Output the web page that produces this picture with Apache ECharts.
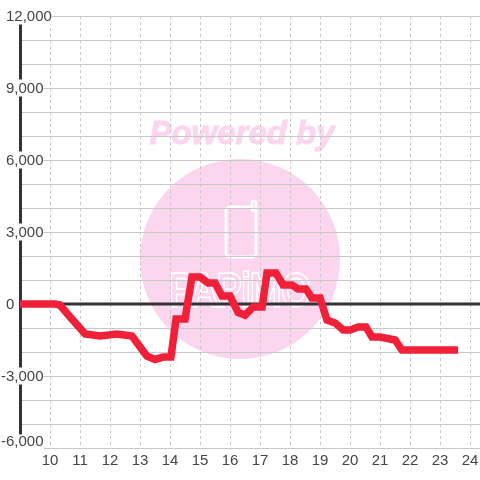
<!DOCTYPE html>
<html>
<head>
<meta charset="utf-8">
<style>
  html, body { margin: 0; padding: 0; background: #fff; }
  #chart { width: 480px; height: 480px; }
</style>
<script src="https://cdn.jsdelivr.net/npm/echarts@6/dist/echarts.min.js"></script>
</head>
<body>
<div id="chart"></div>
<script>
const hours = [9, 10.17, 10.33, 10.67, 11.17, 11.67, 12.23, 12.73, 13.23, 13.5, 13.77, 14.03,
  14.2, 14.5, 14.73, 15, 15.27, 15.5, 15.73, 16, 16.27, 16.5, 16.77, 17.07, 17.23, 17.53,
  17.77, 18.07, 18.27, 18.53, 18.73, 19, 19.23, 19.5, 19.77, 20, 20.27, 20.53, 20.73, 21,
  21.5, 21.73, 23.6];
const values = [0, 0, -40, -540, -1250, -1330, -1250, -1330, -2170, -2310, -2210, -2210,
  -625, -625, 1125, 1125, 875, 875, 330, 330, -350, -460, -125, -125, 1290, 1290,
  790, 790, 625, 625, 250, 250, -670, -790, -1080, -1080, -960, -960, -1375, -1375,
  -1500, -1920, -1920];
const zeroHours = [9, 24.34];
const zeroValues = [0, 0];

const GRID_COLOR = '#c8c8c8';
const TEXT_COLOR = '#444';
const AXIS_COLOR = '#333';
const MARK_PINK = '#fcd6ee';
const Y_MIN = -6000;

function formatY(v) {
  const text = v.toLocaleString('en-US');
  if (v === Y_MIN) {
    return '{low|' + text + '}';
  }
  return v < 0 ? '{neg|' + text + '}' : '{pos|' + text + '}';
}

const chart = echarts.init(document.getElementById('chart'), null, { renderer: 'canvas' });

chart.setOption({
  animation: false,
  backgroundColor: '#fff',
  textStyle: { fontFamily: 'Liberation Sans' },
  grid: { left: 20, right: 0, top: 16, bottom: 32, outerBoundsMode: 'none' },
  graphic: [
    { type: 'circle', z: -10, shape: { cx: 240, cy: 259, r: 100 }, style: { fill: MARK_PINK } },
    { type: 'text', z: -10, x: 242, y: 135, style: {
      text: 'Powered by', fill: MARK_PINK, stroke: MARK_PINK, lineWidth: 1,
      font: 'italic bold 33px "Liberation Sans"', align: 'center', verticalAlign: 'middle'
    } },
    { type: 'rect', z: -9, shape: { x: 226, y: 207, width: 30, height: 50, r: 4 },
      style: { fill: 'none', stroke: '#fff', lineWidth: 3 } },
    { type: 'rect', z: -9, shape: { x: 252, y: 201, width: 4, height: 10, r: 2 },
      style: { fill: MARK_PINK, stroke: '#fff', lineWidth: 2.5 } },
    { type: 'text', z: -9, x: 240, y: 293, scaleX: 0.8, style: {
      text: 'PAPiMO', fill: MARK_PINK, stroke: '#fff', lineWidth: 3.5,
      font: '47px "Liberation Sans"', align: 'center', verticalAlign: 'middle'
    } }
  ],
  xAxis: {
    type: 'value',
    min: 9,
    max: 24.33,
    interval: 1,
    axisLine: { show: false },
    axisTick: { show: false },
    splitLine: { show: true, lineStyle: { color: GRID_COLOR, type: [3, 3], width: 1 } },
    axisLabel: {
      color: TEXT_COLOR,
      fontSize: 15,
      margin: 5,
      showMinLabel: false,
      showMaxLabel: false
    }
  },
  yAxis: {
    type: 'value',
    min: Y_MIN,
    max: 12000,
    interval: 3000,
    axisLine: { show: true, onZero: false, lineStyle: { color: AXIS_COLOR, width: 3 } },
    axisTick: { show: false },
    splitLine: { show: true, lineStyle: { color: GRID_COLOR, width: 1 } },
    minorTick: { show: false, splitNumber: 3 },
    minorSplitLine: { show: true, lineStyle: { color: GRID_COLOR, width: 1 } },
    axisLabel: {
      align: 'left',
      margin: 19,
      color: TEXT_COLOR,
      fontSize: 15,
      formatter: formatY,
      rich: {
        low: { fontSize: 15, color: TEXT_COLOR, backgroundColor: '#fff', padding: [0, 0, 12, 0] },
        neg: { fontSize: 15, color: TEXT_COLOR, backgroundColor: '#fff', padding: [2, 0, 0, 0] },
        pos: { fontSize: 15, color: TEXT_COLOR, backgroundColor: '#fff', padding: [2, 0, 0, 5] }
      }
    }
  },
  series: [
    {
      name: 'zero',
      type: 'line',
      z: 1,
      silent: true,
      symbol: 'none',
      lineStyle: { color: AXIS_COLOR, width: 3 },
      data: zeroHours.map((h, i) => [h, zeroValues[i]])
    },
    {
      name: 'profit',
      type: 'line',
      z: 3,
      symbol: 'none',
      lineStyle: { color: '#f02039', width: 7.5, join: 'miter', cap: 'butt' },
      data: hours.map((h, i) => [h, values[i]])
    }
  ]
});
</script>
</body>
</html>
